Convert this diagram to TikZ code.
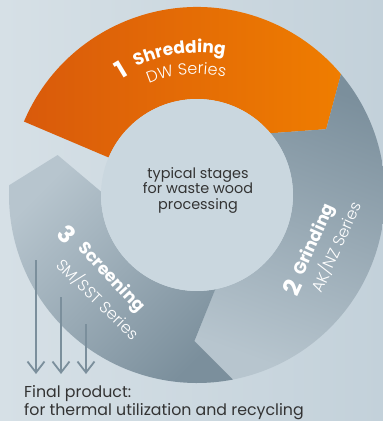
\documentclass[tikz,border=0pt]{standalone}
\usepackage{fontspec}
\setmainfont{Poppins}
\newfontfamily\lightfont{Poppins}[UprightFont=* Light]
\usetikzlibrary{arrows.meta,decorations.text}
\definecolor{orangeL}{HTML}{D95A0B}
\definecolor{orangeR}{HTML}{EF7D00}
\definecolor{steelD}{HTML}{7B8F9C}
\definecolor{steelL}{HTML}{B7C5CE}
\definecolor{bgL}{HTML}{D6E0E6}
\definecolor{bgR}{HTML}{C3D1DA}
\definecolor{hub}{HTML}{CAD7DF}
\definecolor{textdark}{HTML}{333333}

\begin{document}
\begin{tikzpicture}[x=1pt, y=1pt,
    num/.style = {text=white, inner sep=0pt, font=\bfseries\fontsize{24pt}{24pt}\selectfont},
    stage/.style = {text=white, inner sep=0pt, font=\bfseries\fontsize{17pt}{17pt}\selectfont},
    series/.style = {text=white, inner sep=0pt, font=\lightfont\fontsize{16pt}{16pt}\selectfont},
    outarrow/.style = {draw=steelD, line width=1.8pt, -{Straight Barb[length=11pt, width=17pt]}}]

    \useasboundingbox (-197,-226) rectangle (186,195);
    \shade[left color=bgL, right color=bgR] (-197,-226) rectangle (186,195);

    \shade[left color=orangeL, right color=orangeR] (157:188) arc[start angle=157, end angle=40, radius=188]
        -- (27:145) -- (40:96) arc[start angle=40, end angle=157, radius=96] -- cycle;
    \shade[top color=steelD, bottom color=steelL, shading angle=-20] (40:188) arc[start angle=40, end angle=-79, radius=188]
        -- (-91:146) -- (-79:96) arc[start angle=-79, end angle=40, radius=96] -- (27:145) -- cycle;
    \shade[top color=steelL, bottom color=steelD, shading angle=45] (-79:188) arc[start angle=-79, end angle=-183, radius=188]
        -- (-196:145) -- (-182:96) arc[start angle=-182, end angle=-79, radius=96] -- (-91:146) -- cycle;
    \fill[hub] (0,0) circle[radius=96];

    \node[align=center, text=textdark, font=\fontsize{14.4pt}{15.5pt}\selectfont] (hubtext) at (1,5)
        {typical stages\\for waste wood\\processing};

    \node[num, rotate=31] (n1) at (-76,125) {1};
    \path[decorate, decoration={text along path, text color=white, text align=center,
        text={|\bfseries\fontsize{17pt}{17pt}\selectfont|Shredding}}]
        (125:142) arc[start angle=125, end angle=69, radius=142];
    \path[decorate, decoration={text along path, text color=white, text align=center,
        text={|\lightfont\fontsize{16pt}{16pt}\selectfont|DW Series}}]
        (125:121) arc[start angle=125, end angle=65, radius=121];

    \node[num, rotate=65] (n2) at (95,-93) {2};
    \node[stage, rotate=66] (t2) at (118,-45) {Grinding};
    \node[series, rotate=66] (s2) at (139,-52) {AK/NZ Series};

    \node[num, rotate=-45] (n3) at (-130,-39) {3};
    \node[stage, rotate=-47] (t3) at (-86,-83) {Screening};
    \node[series, rotate=-44] (s3) at (-99,-104) {SM/SST Series};

    \foreach \i/\x/\y in {1/-161/-65, 2/-136/-102, 3/-111/-129} {
        \coordinate (a\i) at (\x,\y);
        \coordinate (b\i) at (\x,-179);
        \draw[outarrow] (a\i) -- (b\i);
    }

    \node[anchor=base west, inner sep=0pt, text=textdark, font=\fontsize{15.8pt}{15.8pt}\selectfont] (final) at (-173,-202) {Final product:};
    \node[anchor=base west, inner sep=0pt, text=textdark, font=\fontsize{15.8pt}{15.8pt}\selectfont] (use) at (-173,-220) {for thermal utilization and recycling};

\end{tikzpicture}
\end{document}
